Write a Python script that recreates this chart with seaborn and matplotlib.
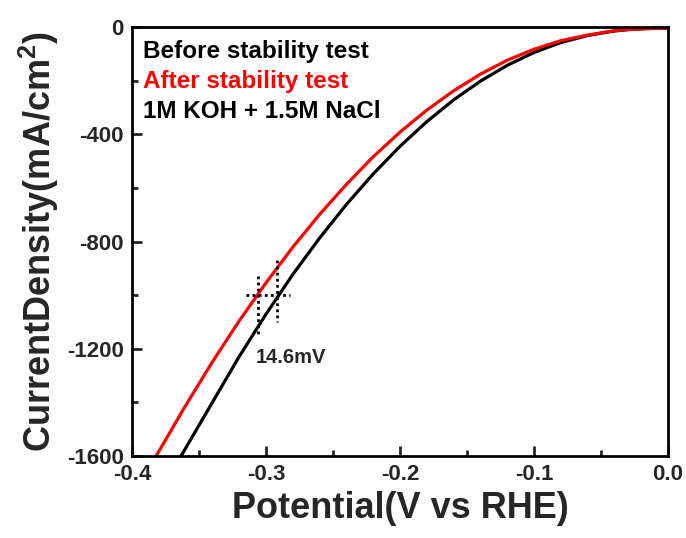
import matplotlib
matplotlib.use("Agg")
import matplotlib.pyplot as plt
import seaborn as sns
import pandas as pd
from matplotlib.ticker import MultipleLocator

# Data (potential in V vs RHE, current density in mA/cm2)
before_x = [-0.3634, -0.36, -0.34, -0.32, -0.30, -0.28, -0.26, -0.24, -0.22, -0.20, -0.18,
            -0.16, -0.14, -0.12, -0.10, -0.08, -0.06, -0.05, -0.04, -0.03, -0.02, -0.01, 0.0]
before_y = [-1600, -1571, -1400, -1229, -1071, -923, -787, -662, -548, -445, -353,
            -272, -202, -143, -95, -58, -32, -23, -15, -10, -7, -5, -4]
after_x = [-0.382, -0.36, -0.34, -0.32, -0.30, -0.28, -0.26, -0.24, -0.22, -0.20, -0.18,
           -0.16, -0.14, -0.12, -0.10, -0.08, -0.06, -0.05, -0.04, -0.03, -0.02, -0.01, 0.0]
after_y = [-1600, -1412, -1249, -1096, -954, -821, -699, -587, -484, -392, -310,
           -238, -176, -124, -83, -51, -30, -22, -14, -9, -7, -5, -4]

cross_y = -1000
cross_x_after = -0.3057
cross_x_before = -0.2916
delta_label = "14.6mV"

legend_labels = ["Before stability test", "After stability test", "1M KOH + 1.5M NaCl"]
xticks = [-0.4, -0.3, -0.2, -0.1, 0.0]
yticks = [0, -400, -800, -1200, -1600]

sns.set_theme(style="ticks")
plt.rcParams["font.family"] = ["Liberation Sans", "DejaVu Sans"]
plt.rcParams["font.weight"] = "bold"
plt.rcParams["mathtext.fontset"] = "custom"
plt.rcParams["mathtext.rm"] = "Liberation Sans:bold"
plt.rcParams["mathtext.bf"] = "Liberation Sans:bold"
plt.rcParams["mathtext.it"] = "Liberation Sans:bold"

fig = plt.figure(figsize=(6.86, 5.38), dpi=100)
ax = fig.add_axes([132/686, 1-456/538, (668-132)/686, (456-27)/538])

df_b = pd.DataFrame({"x": before_x, "y": before_y})
df_a = pd.DataFrame({"x": after_x, "y": after_y})
sns.lineplot(data=df_b, x="x", y="y", sort=False, estimator=None, color="black", lw=2.3, ax=ax)
sns.lineplot(data=df_a, x="x", y="y", sort=False, estimator=None, color="#ff0000", lw=2.3, ax=ax)

# crosshair dotted lines
dot = dict(color="black", lw=2.0, linestyle=(0, (1, 1.2)))
ax.plot([-0.3151, -0.282], [cross_y, cross_y], **dot)
ax.plot([cross_x_after, cross_x_after], [-930, -1155], **dot)
ax.plot([cross_x_before, cross_x_before], [-869, -1099], **dot)
ax.text(-0.3075, -1232, delta_label, fontsize=14.5, fontweight="bold", ha="left", va="center")

ax.set_xlim(-0.4, 0.0)
ax.set_ylim(-1600, 0)
ax.set_xticks(xticks)
ax.set_xticklabels([f"{v:.1f}" for v in xticks])
ax.set_yticks(yticks)
ax.set_yticklabels([str(v) for v in yticks])
ax.xaxis.set_minor_locator(MultipleLocator(0.05))
ax.yaxis.set_minor_locator(MultipleLocator(200))
ax.tick_params(which="major", direction="in", length=7, width=2, labelsize=16, pad=6)
ax.tick_params(which="minor", direction="in", length=4, width=2)
for lab in ax.get_xticklabels() + ax.get_yticklabels():
    lab.set_fontweight("bold")
for s in ax.spines.values():
    s.set_linewidth(2)
    s.set_color("black")

ax.set_xlabel("Potential(V vs RHE)", fontsize=26, fontweight="bold", labelpad=4)
ax.set_ylabel("CurrentDensity(mA/cm$^{2}$)", fontsize=26, fontweight="bold", labelpad=4)

ax.text(0.02, 0.942, legend_labels[0], transform=ax.transAxes, fontsize=17.5, fontweight="bold", color="black", va="center")
ax.text(0.02, 0.872, legend_labels[1], transform=ax.transAxes, fontsize=17.5, fontweight="bold", color="#ff0000", va="center")
ax.text(0.02, 0.804, legend_labels[2], transform=ax.transAxes, fontsize=17.5, fontweight="bold", color="black", va="center")

fig.savefig("out.png", dpi=100)
